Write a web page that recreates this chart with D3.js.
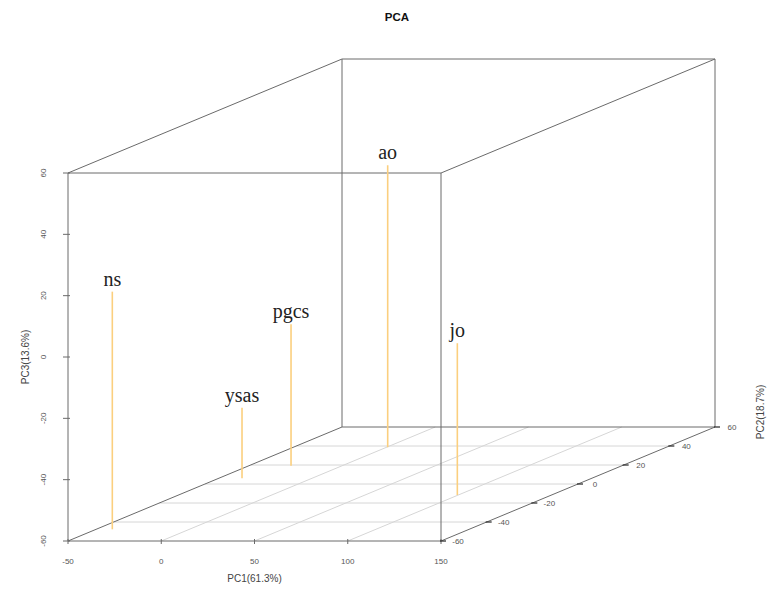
<!DOCTYPE html>
<html>
<head>
<meta charset="utf-8">
<script src="https://cdn.jsdelivr.net/npm/d3@7"></script>
<style>
  html, body { margin: 0; padding: 0; background: #fff; }
  svg { display: block; }
</style>
</head>
<body>
<svg id="chart" width="767" height="591"></svg>
<script>
// ---- data ----
const samples = ["ns", "ysas", "pgcs", "ao", "jo"];
const pc1 = [-41.3, -37.5, -27.5, 0.7, 99.5];
const pc2 = [-47.7, 6.0, 19.3, 38.6, -11.6];
const pc3 = [17.5, -37.0, -13.9, 32.0, -10.5];
const pc1Ticks = [-50, 0, 50, 100, 150];
const pc2Ticks = [-60, -40, -20, 0, 20, 40, 60];
const pc3Ticks = [-60, -40, -20, 0, 20, 40, 60];
const titleText = "PCA";
const xLabel = "PC1(61.3%)";
const yLabel = "PC2(18.7%)";
const zLabel = "PC3(13.6%)";

// ---- layout / projection ----
const svg = d3.select("#chart");
const x0 = 68, y0 = 541;          // origin (front-bottom-left) on screen
const depthDX = 274, depthDY = 114; // screen offset of full depth
const xs = d3.scaleLinear().domain([-50, 150]).range([0, 373]);
const ys = d3.scaleLinear().domain([-60, 60]).range([0, 1]);
const zs = d3.scaleLinear().domain([-60, 60]).range([0, 368]);

function proj(a, b, c) {
  const t = ys(b);
  return [x0 + xs(a) + t * depthDX, y0 - zs(c) - t * depthDY];
}

const g = svg.append("g");
function seg(p, q, stroke, w) {
  g.append("line")
    .attr("x1", p[0]).attr("y1", p[1])
    .attr("x2", q[0]).attr("y2", q[1])
    .attr("stroke", stroke).attr("stroke-width", w);
}

const gridCol = "#d6d6d6";
const boxCol = "#6a6a6a";
const [xmin, xmax] = xs.domain();
const [ymin, ymax] = ys.domain();
const [zmin, zmax] = zs.domain();

// floor grid
pc2Ticks.filter(v => v > ymin && v < ymax).forEach(v => {
  seg(proj(xmin, v, zmin), proj(xmax, v, zmin), gridCol, 1);
});
pc1Ticks.filter(v => v > xmin && v < xmax).forEach(v => {
  seg(proj(v, ymin, zmin), proj(v, ymax, zmin), gridCol, 1);
});

// box (12 edges)
const corners = [];
[xmin, xmax].forEach(a => [ymin, ymax].forEach(b => [zmin, zmax].forEach(c => corners.push([a, b, c]))));
for (let i = 0; i < corners.length; i++) {
  for (let j = i + 1; j < corners.length; j++) {
    const p = corners[i], q = corners[j];
    const diff = (p[0] !== q[0]) + (p[1] !== q[1]) + (p[2] !== q[2]);
    if (diff === 1) seg(proj(...p), proj(...q), boxCol, 1);
  }
}

// ---- ticks & tick labels ----
const tickFont = "Liberation Sans, Arial, sans-serif";
const tickCol = "#555";

// PC1 axis
pc1Ticks.forEach(v => {
  const p = proj(v, ymin, zmin);
  seg([p[0], p[1] - 2], [p[0], p[1] + 3], boxCol, 1);
  g.append("text").attr("x", p[0]).attr("y", p[1] + 23)
    .attr("text-anchor", "middle").attr("font-family", tickFont)
    .attr("font-size", 8).attr("fill", tickCol).text(v);
});

// PC3 axis (left, rotated labels)
pc3Ticks.forEach(v => {
  const p = proj(xmin, ymin, v);
  seg([p[0] - 5, p[1]], [p[0] + 2, p[1]], boxCol, 1);
  g.append("text")
    .attr("transform", `translate(${p[0] - 25},${p[1]}) rotate(-90)`)
    .attr("text-anchor", "middle").attr("dy", "0.35em")
    .attr("font-family", tickFont).attr("font-size", 8).attr("fill", tickCol).text(v);
});

// PC2 axis (depth, right)
pc2Ticks.forEach(v => {
  const p = proj(xmax, v, zmin);
  seg([p[0] - 1, p[1]], [p[0] + 5, p[1]], "#333", 1.3);
  g.append("text").attr("x", p[0] + 17).attr("y", p[1])
    .attr("dy", "0.35em").attr("text-anchor", "middle")
    .attr("font-family", tickFont).attr("font-size", 8).attr("fill", tickCol).text(v);
});

// axis titles
g.append("text").attr("x", (proj(xmin, ymin, zmin)[0] + proj(xmax, ymin, zmin)[0]) / 2)
  .attr("y", 582).attr("text-anchor", "middle")
  .attr("font-family", tickFont).attr("font-size", 10).attr("fill", "#444").text(xLabel);
g.append("text")
  .attr("transform", `translate(25,${(proj(xmin, ymin, zmin)[1] + proj(xmin, ymin, zmax)[1]) / 2}) rotate(-90)`)
  .attr("text-anchor", "middle").attr("dy", "0.35em")
  .attr("font-family", tickFont).attr("font-size", 10).attr("fill", "#444").text(zLabel);
g.append("text")
  .attr("transform", `translate(760,412) rotate(-90)`)
  .attr("text-anchor", "middle").attr("dy", "0.35em")
  .attr("font-family", tickFont).attr("font-size", 10).attr("fill", "#444").text(yLabel);

// title
svg.append("text").attr("x", 397).attr("y", 21)
  .attr("text-anchor", "middle").attr("font-family", tickFont)
  .attr("font-weight", "bold").attr("font-size", 11.5).attr("fill", "#111").text(titleText);

// ---- drop lines and labels ----
samples.forEach((name, i) => {
  const top = proj(pc1[i], pc2[i], pc3[i]);
  const bot = proj(pc1[i], pc2[i], zmin);
  seg(top, bot, "#FBCF7E", 1.6);
  g.append("text").attr("x", top[0]).attr("y", top[1] - 6)
    .attr("text-anchor", "middle")
    .attr("font-family", "Liberation Serif, Times New Roman, serif")
    .attr("font-size", 20).attr("fill", "#222").text(name);
});
</script>
</body>
</html>
